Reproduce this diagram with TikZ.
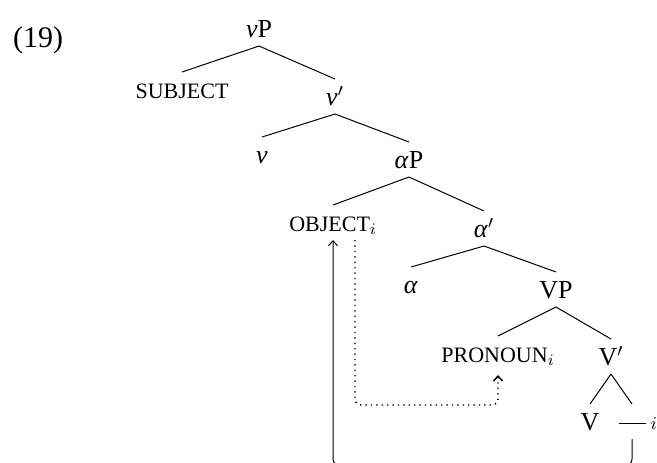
\documentclass[tikz,border=0pt]{standalone}
\usepackage{fontspec}
\setmainfont{Liberation Serif}
\usetikzlibrary{arrows.meta}
\begin{document}
\begin{tikzpicture}[x=0.5pt,y=-0.5pt,
  lbl/.style={anchor=base,inner xsep=1pt,inner ysep=2pt,outer sep=0pt,
    text height=11pt,text depth=2.5pt,font=\fontsize{13}{15}\selectfont},
  sc/.style={lbl,font=\fontsize{11}{13}\selectfont},
  tip/.style={-{Straight Barb[length=2.5pt,width=4.5pt]}}]
\useasboundingbox (0,0) rectangle (657,462);
\clip (0,0) rectangle (657,462);
\node[anchor=base,font=\fontsize{15}{18}\selectfont] (ex) at (38,47) {(19)};
\node[lbl] (vP) at (259,37) {\textit{v}P};
\node[sc] (subj) at (182,98) {SUBJECT};
\node[lbl] (vbar) at (335,105) {\textit{v}$'$};
\node[lbl] (v) at (262,163) {\textit{v}};
\node[lbl] (aP) at (409,168) {\textit{α}P};
\node[sc] (obj) at (333,231) {OBJECT$_i$};
\node[lbl] (abar) at (484,237) {\textit{α}$'$};
\node[lbl] (a) at (411,293) {\textit{α}};
\node[lbl] (VP) at (556,298) {VP};
\node[sc] (pron) at (498,362) {PRONOUN$_i$};
\node[lbl] (Vbar) at (611,365) {V$'$};
\node[lbl] (V) at (590,430) {V};
\node[lbl] (tr) at (632,430) {\rule[3pt]{13.5pt}{0.4pt}\rlap{\hspace{2.5pt}\raisebox{2pt}{$_i$}}};
\coordinate (oi) at ([xshift=11pt]obj.south);
\path[draw,line width=0.5pt] (vP.south) -- (subj.north);
\path[draw,line width=0.5pt] (vP.south) -- (vbar.north);
\path[draw,line width=0.5pt] (vbar.south) -- (v.north);
\path[draw,line width=0.5pt] (vbar.south) -- (aP.north);
\path[draw,line width=0.5pt] (aP.south) -- (obj.north);
\path[draw,line width=0.5pt] (aP.south) -- (abar.north);
\path[draw,line width=0.5pt] (abar.south) -- (a.north);
\path[draw,line width=0.5pt] (abar.south) -- (VP.north);
\path[draw,line width=0.5pt] (VP.south) -- (pron.north);
\path[draw,line width=0.5pt] (VP.south) -- (Vbar.north);
\path[draw,line width=0.5pt] (Vbar.south) -- (V.north);
\path[draw,line width=0.5pt] (Vbar.south) -- (tr.north);
\path[draw,tip,line width=0.5pt,rounded corners=3pt] (tr.south) -- ++(0,26) -| (obj.south);
\path[draw,tip,dotted,line width=0.7pt,rounded corners=3pt,shorten >=2pt] (oi) -- ++(0,165) -| (pron.south);
\end{tikzpicture}
\end{document}
